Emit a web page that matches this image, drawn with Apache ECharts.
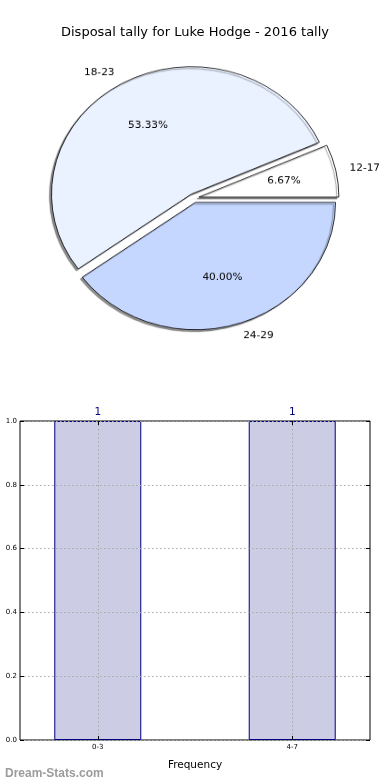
<!DOCTYPE html>
<html>
<head>
<meta charset="utf-8">
<script src="https://cdn.jsdelivr.net/npm/echarts@6/dist/echarts.min.js"></script>
<style>
html,body{margin:0;padding:0;background:#fff;}
#wrap{position:relative;width:390px;height:780px;}
#chart{position:absolute;left:0;top:0;width:390px;height:780px;}
#pie{position:absolute;left:0;top:0;width:390px;height:400px;transform:scaleY(0.91);transform-origin:0 198px;}
</style>
</head>
<body>
<div id="wrap">
<div id="chart"></div>
<div id="pie"></div>
</div>
<script>
// ---- data ----
var pieLabels = ['12-17', '18-23', '24-29'];
var pieValues = [1, 8, 6];
var pieColors = ['#ffffff', '#eaf1ff', '#c5d7ff'];
var barCategories = ['0-3', '4-7'];
var barValues = [1, 1];

var FONT = 'DejaVu Sans';
var R = 140;
var CX = 194, CY = 198;
var pieTotal = pieValues.reduce(function (a, b) { return a + b; }, 0);

var pieData = pieLabels.map(function (n, i) {
  return { name: n, value: pieValues[i], selected: true, itemStyle: { color: pieColors[i] } };
});
var pctData = pieLabels.map(function (n, i) {
  return { name: n, value: pieValues[i], selected: true };
});
var barData = barValues.map(function (v, i) { return [i, v]; });
var xPos = barCategories.map(function (c, i) { return i; });

var gridLine = { show: true, lineStyle: { color: '#a8a8a8', type: [1.5, 2.5], width: 1 } };

// ---- main chart: title, histogram, watermark ----
var chart = echarts.init(document.getElementById('chart'));
chart.setOption({
  animation: false,
  textStyle: { fontFamily: FONT },
  title: [
    { text: 'Disposal tally for Luke Hodge - 2016 tally', left: 'center', top: 21,
      textStyle: { fontFamily: FONT, fontSize: 13, fontWeight: 'normal', color: '#000' } },
    { text: 'Dream-Stats.com', left: 0, top: 763,
      textStyle: { fontFamily: 'Liberation Sans', fontSize: 12, fontWeight: 'bold', color: '#9c9c9c' } }
  ],
  grid: { left: 20, right: 20, top: 421, bottom: 40, show: true, borderColor: '#000', borderWidth: 1, backgroundColor: 'transparent' },
  xAxis: [
    { type: 'value', min: -0.4, max: 1.4, position: 'bottom', z: 3,
      axisLine: { show: false, onZero: false },
      axisTick: { show: true, inside: true, length: 4, customValues: xPos, lineStyle: { color: '#000' } },
      axisLabel: { customValues: xPos, fontSize: 7, color: '#000', margin: 4,
        formatter: function (v) { return barCategories[Math.round(v)]; } },
      splitLine: gridLine,
      name: 'Frequency', nameLocation: 'middle', nameGap: 20,
      nameTextStyle: { fontFamily: FONT, fontSize: 10.5, color: '#000' } },
    { type: 'value', min: -0.4, max: 1.4, position: 'top', z: 3,
      axisLine: { show: false, onZero: false },
      axisTick: { show: true, inside: true, length: 4, customValues: xPos, lineStyle: { color: '#000' } },
      axisLabel: { show: false }, splitLine: { show: false } }
  ],
  yAxis: [
    { type: 'value', min: 0, max: 1, interval: 0.2, position: 'left', z: 3,
      axisLine: { show: false, onZero: false },
      axisTick: { show: true, inside: true, length: 4, lineStyle: { color: '#000' } },
      axisLabel: { fontSize: 7, color: '#000', margin: 3, formatter: function (v) { return v.toFixed(1); } },
      splitLine: gridLine },
    { type: 'value', min: 0, max: 1, interval: 0.2, position: 'right', z: 3,
      axisLine: { show: false, onZero: false },
      axisTick: { show: true, inside: true, length: 4, lineStyle: { color: '#000' } },
      axisLabel: { show: false }, splitLine: { show: false } }
  ],
  series: [
    {
      type: 'bar', xAxisIndex: 0, yAxisIndex: 0, barWidth: 87, z: 2,
      itemStyle: { color: '#ccccE5', borderColor: '#000080', borderWidth: 1 },
      label: { show: true, position: 'top', distance: 3, fontFamily: FONT, fontSize: 10.5, color: '#000080' },
      data: barData
    }
  ]
});

// ---- pie (drawn in a vertically scaled layer so it is elliptical like the original) ----
var pie = echarts.init(document.getElementById('pie'));
pie.setOption({
  animation: false,
  backgroundColor: 'transparent',
  series: [
    {
      type: 'pie', center: [CX, CY], radius: R, startAngle: 0, clockwise: false,
      selectedMode: 'multiple', selectedOffset: 5, avoidLabelOverlap: false, silent: true,
      itemStyle: { borderColor: '#000', borderWidth: 0.8, shadowBlur: 1, shadowOffsetX: -2, shadowOffsetY: 2, shadowColor: 'rgba(0,0,0,0.45)' },
      select: { itemStyle: { borderColor: '#000', borderWidth: 0.8 } },
      emphasis: { disabled: true },
      label: { show: true, position: 'outside', fontFamily: FONT, fontSize: 10.5, color: '#000', distanceToLabelLine: 0 },
      labelLine: { show: false, length: R * 0.1, length2: 0 },
      data: pieData
    },
    {
      type: 'pie', center: [CX, CY], radius: [0, R * 1.2], startAngle: 0, clockwise: false,
      selectedMode: 'multiple', selectedOffset: 5, silent: true, z: 3,
      itemStyle: { color: 'rgba(0,0,0,0)', borderWidth: 0 },
      emphasis: { disabled: true },
      label: { show: true, position: 'inside', fontFamily: FONT, fontSize: 10.5, color: '#000',
        formatter: function (p) { return (p.value / pieTotal * 100).toFixed(2) + '%'; } },
      labelLine: { show: false },
      data: pctData
    }
  ]
});
</script>
</body>
</html>
